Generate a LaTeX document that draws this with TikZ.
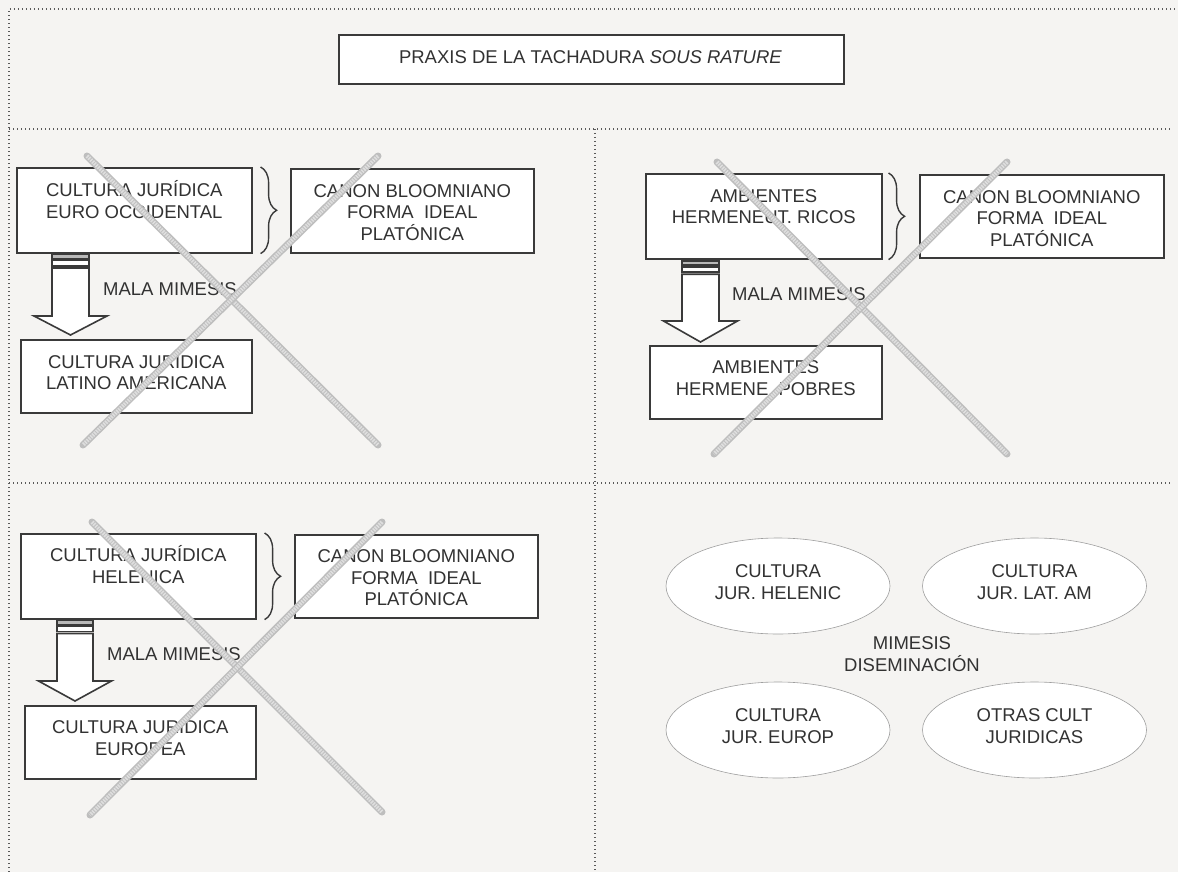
\documentclass[tikz,border=0pt]{standalone}
\usepackage{fontspec}
\setmainfont{Liberation Sans}
\usetikzlibrary{decorations.pathreplacing,shapes.geometric}

\definecolor{bg}{RGB}{245,244,242}
\definecolor{ink}{RGB}{50,50,50}
\definecolor{edge}{RGB}{58,58,58}
\definecolor{dots}{RGB}{90,90,90}
\definecolor{xgray}{RGB}{190,190,190}
\definecolor{xlight}{RGB}{222,222,222}

% fixed height for the first line of every multi-line label
\newcommand\lnstrut{\rule{0pt}{18pt}}

% hollow down arrow with two stripes on its tail:
% #1 centre x, #2 top y, #3 y of head base, #4 tip y, #5 shaft half width, #6 head half width
\newcommand\stripearrow[6]{%
  \draw[arrowline, fill=gray!55] ({#1-#5},{#2}) rectangle ({#1+#5},{#2+4.5});
  \draw[arrowline] ({#1-#5},{#2+6}) rectangle ({#1+#5},{#2+11.5});
  \draw[arrowline] ({#1-#5},{#2+13.5}) -- ({#1-#5},{#3}) -- ({#1-#6},{#3})
    -- ({#1},{#4}) -- ({#1+#6},{#3}) -- ({#1+#5},{#3}) -- ({#1+#5},{#2+13.5}) -- cycle;
}

\tikzset{
  panelline/.style={draw=dots, line width=1.2pt, dash pattern=on 1.2pt off 2.8pt},
  boxnode/.style={draw=edge, fill=white, line width=1.6pt, rectangle, inner sep=0pt, anchor=north west},
  txt/.style={font=\fontsize{18.5}{21.5}\selectfont, text=ink, align=center, inner sep=0pt, anchor=north},
  oval/.style={ellipse, draw=gray!75, line width=0.6pt, fill=white, minimum width=224pt, minimum height=96pt, inner sep=0pt},
  bracket/.style={draw=edge, line width=1.4pt, decorate, decoration={brace, amplitude=16pt}},
  arrowline/.style={draw=edge, fill=white, line width=1.6pt, line join=miter},
  xbar/.style={draw=xgray, line width=7pt, line cap=round,
    postaction={draw=xlight, line width=4pt, line cap=butt, dash pattern=on 1.6pt off 1pt}},
}

\begin{document}
\begin{tikzpicture}[x=1pt, y=-1pt]
  \path[use as bounding box] (0,0) rectangle (1178,872);
  \fill[bg] (0,0) rectangle (1178,872);

  % panel frame
  \draw[panelline] (9,872) -- (9,9) -- (1178,9);
  \draw[panelline] (9,129) -- (1172,129);
  \draw[panelline] (9,483) -- (1172,483);
  \draw[panelline] (595,129) -- (595,872);

  % heading
  \node[boxnode, minimum width=505pt, minimum height=49pt] (ttlbox) at (338,34) {};
  \node[txt, anchor=base] (ttl) at (590.5,63.3) {PRAXIS DE LA TACHADURA \textit{SOUS RATURE}};

  % ---------- upper left ----------
  \node[boxnode, minimum width=235pt, minimum height=85pt] (tlA) at (16,167) {};
  \node[boxnode, minimum width=243pt, minimum height=84pt] (tlB) at (290,168) {};
  \node[boxnode, minimum width=231pt, minimum height=73pt] (tlC) at (20,339) {};
  \node[txt] (tlAt) at ([yshift=-11.5pt]tlA.north) {\lnstrut CULTURA JURÍDICA\\EURO OCCIDENTAL};
  \node[txt] (tlBt) at ([yshift=-11pt]tlB.north) {\lnstrut CANON BLOOMNIANO\\FORMA\ \ IDEAL\\PLATÓNICA};
  \node[txt] (tlCt) at ([yshift=-11pt]tlC.north) {\lnstrut CULTURA JURIDICA\\LATINO AMERICANA};
  \draw[bracket] ([xshift=8pt]tlA.north east) -- ([xshift=8pt]tlA.south east);
  \stripearrow{70.5}{254.5}{316}{335}{18.5}{36.5}
  \node[txt, anchor=base west] (tlM) at (103,295) {MALA MIMESIS};

  % ---------- upper right ----------
  \node[boxnode, minimum width=236pt, minimum height=85pt] (trA) at (645,173) {};
  \node[boxnode, minimum width=244pt, minimum height=83pt] (trB) at (919,174) {};
  \node[boxnode, minimum width=232pt, minimum height=73pt] (trC) at (649,345) {};
  \node[txt] (trAt) at ([yshift=-11pt]trA.north) {\lnstrut AMBIENTES\\HERMENEUT. RICOS};
  \node[txt] (trBt) at ([yshift=-11pt]trB.north) {\lnstrut CANON BLOOMNIANO\\FORMA\ \ IDEAL\\PLATÓNICA};
  \node[txt] (trCt) at ([yshift=-10.5pt]trC.north) {\lnstrut AMBIENTES\\HERMENE. POBRES};
  \draw[bracket] ([xshift=6pt]trA.north east) -- ([xshift=6pt]trA.south east);
  \stripearrow{700.5}{260.7}{321}{342}{18.5}{37}
  \node[txt, anchor=base west] (trM) at (732,300) {MALA MIMESIS};

  % ---------- lower left ----------
  \node[boxnode, minimum width=235pt, minimum height=85pt] (blA) at (20,533) {};
  \node[boxnode, minimum width=243pt, minimum height=83pt] (blB) at (294,534) {};
  \node[boxnode, minimum width=231pt, minimum height=73pt] (blC) at (24,705) {};
  \node[txt] (blAt) at ([yshift=-10.7pt]blA.north) {\lnstrut CULTURA JURÍDICA\\HELENICA};
  \node[txt] (blBt) at ([yshift=-10.7pt]blB.north) {\lnstrut CANON BLOOMNIANO\\FORMA\ \ IDEAL\\PLATÓNICA};
  \node[txt] (blCt) at ([yshift=-10.3pt]blC.north) {\lnstrut CULTURA JURIDICA\\EUROPEA};
  \draw[bracket] ([xshift=8pt]blA.north east) -- ([xshift=8pt]blA.south east);
  \stripearrow{75}{620}{681}{701}{18}{36.5}
  \node[txt, anchor=base west] (blM) at (107,660.7) {MALA MIMESIS};

  % ---------- lower right ----------
  \node[oval] (e1) at (778,586) {};
  \node[oval] (e2) at (1034.5,586) {};
  \node[oval] (e3) at (778,730) {};
  \node[oval] (e4) at (1034.5,730) {};
  \node[txt] (e1t) at ([yshift=26.5pt]e1.center) {\lnstrut CULTURA\\JUR. HELENIC};
  \node[txt] (e2t) at ([yshift=26.5pt]e2.center) {\lnstrut CULTURA\\JUR. LAT. AM};
  \node[txt] (e3t) at ([yshift=26.5pt]e3.center) {\lnstrut CULTURA\\JUR. EUROP};
  \node[txt] (e4t) at ([yshift=26.5pt]e4.center) {\lnstrut OTRAS CULT\\JURIDICAS};
  \node[txt] (mid) at (912,631.3) {\lnstrut MIMESIS\\DISEMINACIÓN};

  % strike-through crosses
  \draw[xbar] (87,156) -- (378,445);
  \draw[xbar] (378,156) -- (83,445);
  \draw[xbar] (717,162) -- (1007,454);
  \draw[xbar] (1007,162) -- (714,454);
  \draw[xbar] (92,522) -- (382,812);
  \draw[xbar] (382,522) -- (90,815);
\end{tikzpicture}
\end{document}
